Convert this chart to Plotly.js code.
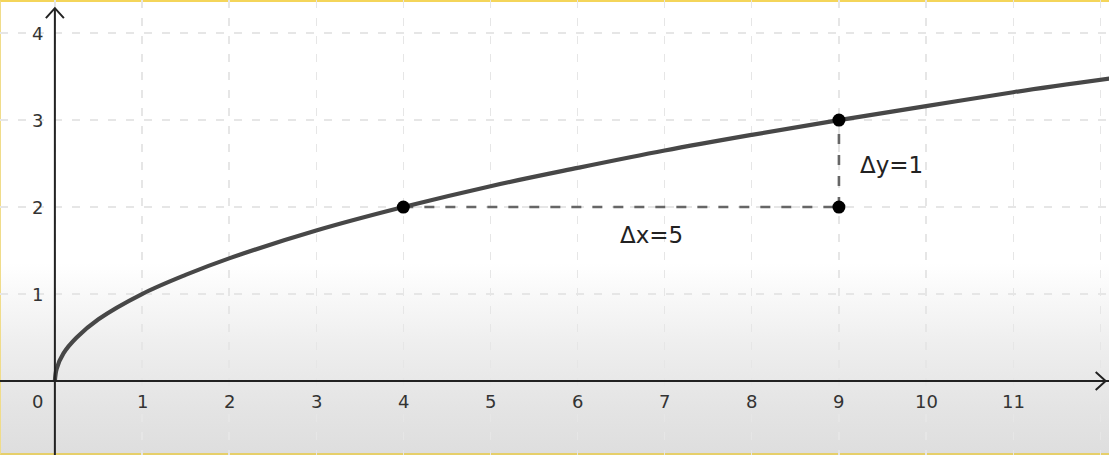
<!DOCTYPE html>
<html>
<head>
<meta charset="utf-8">
<script src="https://cdn.plot.ly/plotly-3.0.1.min.js"></script>
<style>
  html, body { margin: 0; padding: 0; }
  body { width: 1109px; height: 455px; overflow: hidden; }
  #wrap {
    width: 1109px; height: 455px; box-sizing: border-box;
    border-top: 2px solid #f4d55a; border-bottom: 2px solid #e6cf6a; border-left: 1px solid #f0dc8a;
    background: linear-gradient(to bottom, #ffffff 0%, #ffffff 58%, #efefef 75%, #e4e4e4 90%, #dedede 100%);
    position: relative;
  }
  #chart { position: absolute; left: -1px; top: -2px; width: 1109px; height: 455px; }
</style>
</head>
<body>
<div id="wrap"><div id="chart"></div></div>
<script>
// Curve values
const curveX = [0, 0.02, 0.1, 0.25, 0.5, 1, 1.5, 2, 3, 4, 5, 6, 7, 8, 9, 10, 11, 12.2];
const curveY = [0, 0.14, 0.32, 0.5, 0.71, 1, 1.22, 1.41, 1.73, 2, 2.24, 2.45, 2.65, 2.83, 3, 3.16, 3.32, 3.49];
// Marked points
const pointX = [4, 9, 9];
const pointY = [2, 3, 2];
// Delta guide lines
const dxLineX = [4, 9], dxLineY = [2, 2];
const dyLineX = [9, 9], dyLineY = [2, 3];
// Tick labels
const xTickVals = [1, 2, 3, 4, 5, 6, 7, 8, 9, 10, 11];
const xTickText = ["1","2","3","4","5","6","7","8","9","10","11"];
const yTickVals = [1, 2, 3, 4];
const yTickText = ["1","2","3","4"];
const zeroLabel = "0";
const deltaLabels = [
  {text: "Δx=5", x: 6.85, y: 1.68},
  {text: "Δy=1", x: 9.6, y: 2.48}
];

const xr = [-0.63, 12.1], yr = [-0.85, 4.38];
const font = "DejaVu Sans, sans-serif";

const traces = [
  {x: dxLineX, y: dxLineY, mode: 'lines', line: {color: '#666', width: 2.6, dash: '10px,11px'}, hoverinfo: 'skip'},
  {x: dyLineX, y: dyLineY, mode: 'lines', line: {color: '#666', width: 2.6, dash: '10px,11px'}, hoverinfo: 'skip'},
  {x: curveX, y: curveY, mode: 'lines', line: {color: '#474747', width: 4.2, shape: 'spline', smoothing: 1}, hoverinfo: 'skip'},
  {x: pointX, y: pointY, mode: 'markers', marker: {color: '#000', size: 13}, hoverinfo: 'skip'}
];

const annotations = [];
xTickVals.forEach((v, i) => annotations.push({x: v, y: -0.23, text: xTickText[i], showarrow: false, xanchor: 'center', yanchor: 'middle', font: {family: font, size: 18, color: '#333'}}));
yTickVals.forEach((v, i) => annotations.push({x: -0.11, y: v, text: yTickText[i], showarrow: false, xanchor: 'right', yanchor: 'middle', font: {family: font, size: 18, color: '#333'}}));
annotations.push({x: -0.205, y: -0.23, text: zeroLabel, showarrow: false, xanchor: 'center', yanchor: 'middle', font: {family: font, size: 18, color: '#333'}});
deltaLabels.forEach(d => annotations.push({x: d.x, y: d.y, text: d.text, showarrow: false, xanchor: 'center', yanchor: 'middle', font: {family: font, size: 23, color: '#222'}}));

const shapes = [
  // x axis
  {type: 'line', xref: 'paper', yref: 'y', x0: 0, x1: 1, y0: 0, y1: 0, line: {color: '#222', width: 2}},
  // y axis
  {type: 'line', xref: 'x', yref: 'paper', x0: 0, x1: 0, y0: 0, y1: 0.982, line: {color: '#222', width: 2}},
  // y arrow head (pixel-sized)
  {type: 'path', xref: 'x', yref: 'paper', xsizemode: 'pixel', ysizemode: 'pixel', xanchor: 0, yanchor: 0.982,
   path: 'M -9,-10 L 0,0 L 9,-10', line: {color: '#222', width: 2}},
  // x arrow head
  {type: 'path', xref: 'paper', yref: 'y', xsizemode: 'pixel', ysizemode: 'pixel', xanchor: 0.997, yanchor: 0,
   path: 'M -10,9 L 0,0 L -10,-9', line: {color: '#222', width: 2}}
];

const layout = {
  width: 1109, height: 455,
  margin: {l: 0, r: 0, t: 0, b: 0},
  paper_bgcolor: 'rgba(0,0,0,0)', plot_bgcolor: 'rgba(0,0,0,0)',
  showlegend: false,
  xaxis: {range: xr, dtick: 1, tick0: 0, showgrid: true, gridcolor: '#e6e6e6', griddash: '8px,10px', gridwidth: 1.3,
          zeroline: false, showticklabels: false, ticks: '', fixedrange: true},
  yaxis: {range: yr, dtick: 1, tick0: 0, showgrid: true, gridcolor: '#e6e6e6', griddash: '8px,10px', gridwidth: 1.3,
          zeroline: false, showticklabels: false, ticks: '', fixedrange: true},
  annotations: annotations,
  shapes: shapes
};

Plotly.newPlot('chart', traces, layout, {staticPlot: true, displayModeBar: false});
</script>
</body>
</html>
